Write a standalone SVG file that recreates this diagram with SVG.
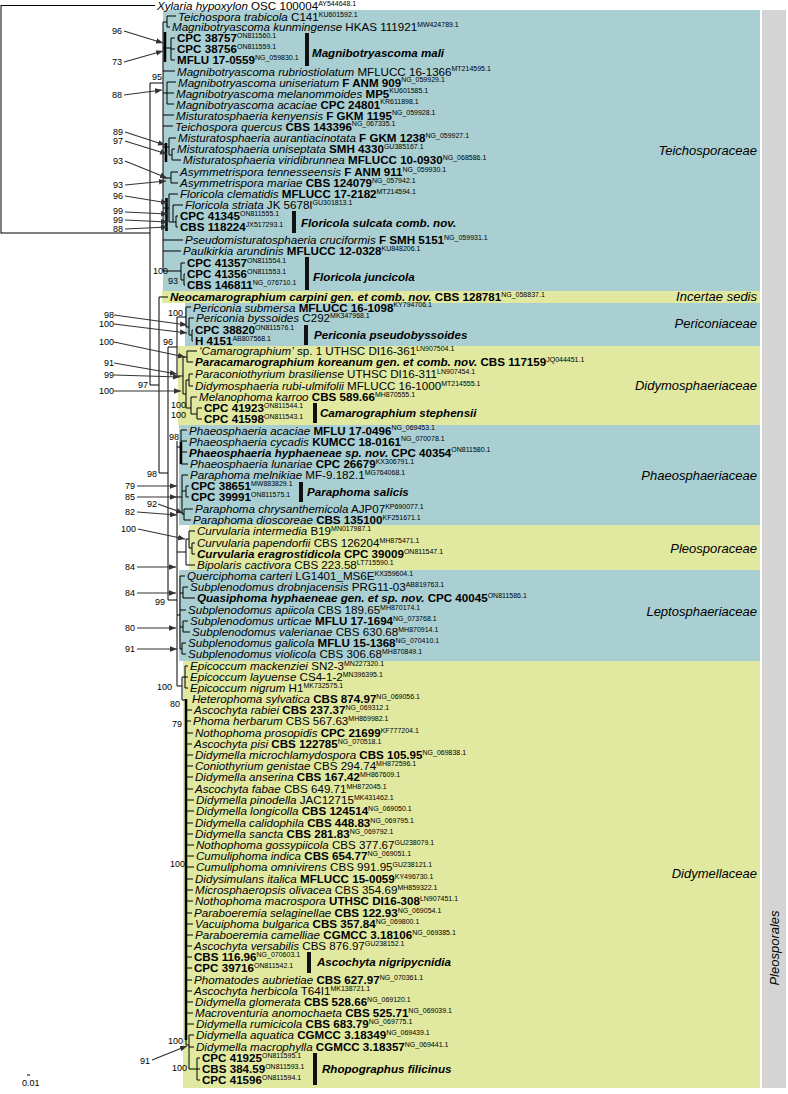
<svg xmlns="http://www.w3.org/2000/svg" width="788" height="1094" viewBox="0 0 788 1094">
<defs>
<style>
text{font-family:"Liberation Sans",Arial,sans-serif;fill:#000}
.t{font-size:11.6px}
.i{font-style:italic}
.b{font-weight:bold}
.bi{font-weight:bold;font-style:italic}
.s{font-size:7px;font-weight:normal;font-style:normal}
.n{font-size:9px}
.fam{font-size:13px;font-style:italic;text-anchor:end}
.grp{font-size:11.6px;font-weight:bold;font-style:italic}
.tree{stroke:#000;stroke-width:1;fill:none}
.thick{stroke:#000;stroke-width:2.5;fill:none}
.arr{stroke:#333;stroke-width:1.2;fill:none;marker-end:url(#ah)}
.teal{fill:#a9cfd2}
.yel{fill:#e1e8a0}
.bar{fill:#111}
</style>
<marker id="ah" viewBox="0 0 10 10" refX="10" refY="5" markerWidth="7" markerHeight="7" orient="auto" markerUnits="userSpaceOnUse"><path d="M0,1 L10,5 L0,9 z" fill="#333"/></marker>
</defs>
<rect width="788" height="1094" fill="#fff"/>
<g id="backgrounds">
<rect class="teal" x="163" y="10" width="597" height="281"/>
<rect class="yel" x="162" y="291" width="598" height="12"/>
<rect class="teal" x="185" y="303" width="575" height="43"/>
<rect class="yel" x="178" y="346" width="582" height="79"/>
<rect class="teal" x="179" y="425" width="581" height="100"/>
<rect class="yel" x="189" y="525" width="571" height="45"/>
<rect class="teal" x="179" y="570" width="581" height="91"/>
<rect class="yel" x="183" y="661" width="577" height="427"/>
<rect x="762" y="10" width="24" height="1078" fill="#d4d4d4"/>
</g>
<g id="family-labels">
<text class="fam" x="757" y="155">Teichosporaceae</text>
<text class="fam" x="757" y="301">Incertae sedis</text>
<text class="fam" x="757" y="328">Periconiaceae</text>
<text class="fam" x="757" y="390">Didymosphaeriaceae</text>
<text class="fam" x="757" y="480">Phaeosphaeriaceae</text>
<text class="fam" x="757" y="553">Pleosporaceae</text>
<text class="fam" x="757" y="616">Leptosphaeriaceae</text>
<text class="fam" x="757" y="878">Didymellaceae</text>
<text x="779" y="948" transform="rotate(-90 779 948)" style="font-size:13px;font-style:italic;text-anchor:middle">Pleosporales</text>
</g>
<g id="connectors">
<path class="tree" d="M1 5.5H155M1 5V233.5M1 233H150M150 83V385M150 83H163
M163 22V271M163 22H167M167 16V27M167 16H176M167 27H170
M163 48H171M171 38V60M171 38H175M171 49H175M171 60H175
M163 71H175M163 93H167M167 82V104M167 82H176M167 93H174M167 104H174
M163 115H174M163 126H173
M163 147H169M169 138V155M169 138H176M169 155H172M172 149V160M172 149H175M172 160H181
M163 178H171M171 172V183M171 172H178M171 183H178
M163 208H169M169 194V222M169 194H178M169 222H173M173 205V222M173 205H183M173 222H176M176 216V227M176 216H178M176 227H178
M163 240H183M163 251H181
M163 271H181M181 263V280M181 263H185M181 280H184M184 274V285M184 274H185M184 285H185
M150 385H159M159 297V473M159 297H168
M159 473H168M168 347V600
M168 347H177M177 317V376
M177 317H186M186 307V327M186 307H191M186 327H189M189 318V335M189 318H194M189 335H192M192 330V341M192 330H193M192 341H193
M177 376H183M183 357V394M183 357H187M187 351V362M187 351H197M187 362H193M183 394H186M186 380V408M186 380H189M189 374V386M189 374H193M189 386H193M186 408H191M191 397V414M191 397H197M191 414H197M197 408V419M197 408H202M197 419H202
M168 600H177M177 441V686
M177 447H181M181 430V464M181 430H187M181 441H187M181 452H187M181 464H188
M177 497H182M182 475V514M182 475H188M182 491H186M186 486V497M186 486H189M186 497H189M182 514H184M184 509V520M184 509H193M184 520H191
M177 552H186M186 539V565M186 539H189M189 531V548M189 531H195M189 548H192M192 543V554M192 543H195M192 554H195M186 565H195
M177 615H180M180 576V649M180 576H185M180 593H183M183 587V598M183 587H188M183 598H195M180 610H186M180 627H183M183 621V632M183 621H188M183 632H190M180 649H182M182 643V654M182 643H186M182 654H186
M177 686H182M182 677V700M182 677H185M185 666V688M185 666H188M185 677H188M185 688H188M182 700H186
M186 699V1045M186 710H192M186 721H191M186 733H193M186 744H192M186 755H193M186 766H193M186 777H193M186 789H193M186 800H194M186 811H194M186 823H193M186 834H193M186 845H194M186 856H194M186 867H194M186 879H193M186 890H193M186 901H193M186 913H192M186 924H193M186 935H193M186 946H192M186 957H192M186 968H192M186 980H192M186 991H192M186 1002H193M186 1013H193M186 1024H194
M186 1045H189M189 1035V1069M189 1035H194M189 1047H194M189 1069H197M197 1058V1080M197 1058H200M197 1069H200M197 1080H200"/>
<path class="thick" d="M165 32V62M166 143V162M166.5 198V231M181 442V464M186 699V1040"/>
<path class="tree" d="M27 1075H30"/>
<g id="support-arrows">
<path class="arr" d="M124 31L163 43"/>
<path class="arr" d="M124 62L163 51"/>
<path class="arr" d="M124 95L162 90"/>
<path class="arr" d="M125 132L165 145"/>
<path class="arr" d="M125 141L167 154"/>
<path class="arr" d="M125 161L167 178"/>
<path class="arr" d="M125 185L166 181"/>
<path class="arr" d="M125 196L168 203"/>
<path class="arr" d="M125 212L168 214"/>
<path class="arr" d="M125 220L168 222"/>
<path class="arr" d="M125 229L168 227"/>
<path class="arr" d="M114 315L187 325"/>
<path class="arr" d="M114 324L187 333"/>
<path class="arr" d="M114 342L185 357"/>
<path class="arr" d="M114 363L177 374"/>
<path class="arr" d="M114 375L180 377"/>
<path class="arr" d="M114 391L181 391"/>
<path class="arr" d="M137 486L177 486"/>
<path class="arr" d="M137 497L177 497"/>
<path class="arr" d="M158 504L183 513"/>
<path class="arr" d="M137 512L177 515"/>
<path class="arr" d="M138 529L185 539"/>
<path class="arr" d="M137 567L176 567"/>
<path class="arr" d="M137 593L176 593"/>
<path class="arr" d="M137 628L176 628"/>
<path class="arr" d="M137 649L177 649"/>
<path class="arr" d="M152 1060L187 1046"/>
</g>
</g>
<g id="support-values">
<text class="n" x="152" y="80">95</text>
<text class="n" x="153" y="274">100</text>
<text class="n" x="168" y="284">93</text>
<text class="n" x="168" y="316">100</text>
<text class="n" x="163" y="345">96</text>
<text class="n" x="138" y="388">97</text>
<text class="n" x="171" y="408">100</text>
<text class="n" x="171" y="418">100</text>
<text class="n" x="169" y="440">98</text>
<text class="n" x="147" y="477">98</text>
<text class="n" x="155" y="605">99</text>
<text class="n" x="157" y="690">100</text>
<text class="n" x="170" y="707">80</text>
<text class="n" x="172" y="727">79</text>
<text class="n" x="170" y="867">100</text>
<text class="n" x="168" y="1044">100</text>
<text class="n" x="172" y="1071">100</text>
<text class="n" x="112" y="34">96</text>
<text class="n" x="112" y="65">73</text>
<text class="n" x="112" y="98">88</text>
<text class="n" x="113" y="135">89</text>
<text class="n" x="113" y="144">97</text>
<text class="n" x="113" y="164">93</text>
<text class="n" x="113" y="188">93</text>
<text class="n" x="113" y="199">96</text>
<text class="n" x="113" y="214">99</text>
<text class="n" x="113" y="223">99</text>
<text class="n" x="113" y="232">88</text>
<text class="n" x="104" y="318">98</text>
<text class="n" x="99" y="327">100</text>
<text class="n" x="99" y="345">100</text>
<text class="n" x="104" y="366">91</text>
<text class="n" x="104" y="378">99</text>
<text class="n" x="99" y="394">100</text>
<text class="n" x="125" y="489">79</text>
<text class="n" x="125" y="500">85</text>
<text class="n" x="147" y="507">92</text>
<text class="n" x="125" y="515">82</text>
<text class="n" x="121" y="532">100</text>
<text class="n" x="125" y="570">84</text>
<text class="n" x="125" y="596">84</text>
<text class="n" x="125" y="631">80</text>
<text class="n" x="125" y="652">91</text>
<text class="n" x="140" y="1064">91</text>
<text class="n" x="22" y="1086">0.01</text>
</g>
<g id="group-bars">
<rect class="bar" x="305" y="33" width="4" height="33"/><text class="grp" x="312" y="57">Magnibotryascoma mali</text>
<rect class="bar" x="292" y="211" width="4" height="22"/><text class="grp" x="301" y="227">Floricola sulcata comb. nov.</text>
<rect class="bar" x="305" y="257" width="4" height="33"/><text class="grp" x="313" y="281">Floricola juncicola</text>
<rect class="bar" x="304" y="325" width="4" height="20"/><text class="grp" x="314" y="339">Periconia pseudobyssoides</text>
<rect class="bar" x="313" y="403" width="4" height="20"/><text class="grp" x="320" y="417">Camarographium stephensii</text>
<rect class="bar" x="299" y="482" width="4" height="20"/><text class="grp" x="307" y="496">Paraphoma salicis</text>
<rect class="bar" x="307" y="952" width="4" height="21"/><text class="grp" x="317" y="966">Ascochyta nigripycnidia</text>
<rect class="bar" x="313" y="1053" width="4" height="32"/><text class="grp" x="322" y="1073">Rhopographus filicinus</text>
</g>
<g id="taxa">
<g id="tx0"><text class="t" x="157" y="9.7"><tspan class="i">Xylaria hypoxylon</tspan> OSC 100004<tspan class="s" dy="-4">AY544648.1</tspan></text></g>
<g id="tx1"><text class="t" x="178" y="20.5"><tspan class="i">Teichospora trabicola</tspan> C141<tspan class="s" dy="-3.5">KU601592.1</tspan></text></g>
<g id="tx2"><text class="t" x="172" y="31"><tspan class="i">Magnibotryascoma kunmingense</tspan> HKAS 111921<tspan class="s" dy="-4">MW424789.1</tspan></text></g>
<g id="tx3"><text class="t" x="177" y="42"><tspan class="b">CPC 38757</tspan><tspan class="s" dy="-4.5">ON811560.1</tspan></text></g>
<g id="tx4"><text class="t" x="177" y="53"><tspan class="b">CPC 38756</tspan><tspan class="s" dy="-4.5">ON811559.1</tspan></text></g>
<g id="tx5"><text class="t" x="177" y="64"><tspan class="b">MFLU 17-0559</tspan><tspan class="s" dy="-4.5">NG_059830.1</tspan></text></g>
<g id="tx6"><text class="t" x="177" y="75.5"><tspan class="i">Magnibotryascoma rubriostiolatum</tspan> MFLUCC 16-1366<tspan class="s" dy="-4.5">MT214595.1</tspan></text></g>
<g id="tx7"><text class="t" x="178" y="86.5"><tspan class="i">Magnibotryascoma uniseriatum</tspan> <tspan class="b">F ANM 909</tspan><tspan class="s" dy="-4.5">NG_059929.1</tspan></text></g>
<g id="tx8"><text class="t" x="176" y="97.5"><tspan class="i">Magnibotryascoma melanommoides</tspan> <tspan class="b">MP5</tspan><tspan class="s" dy="-4.5">KU601585.1</tspan></text></g>
<g id="tx9"><text class="t" x="176" y="108.5"><tspan class="i">Magnibotryascoma acaciae</tspan> <tspan class="b">CPC 24801</tspan><tspan class="s" dy="-4.5">KR611898.1</tspan></text></g>
<g id="tx10"><text class="t" x="176" y="119.5"><tspan class="i">Misturatosphaeria kenyensis</tspan> <tspan class="b">F GKM 1195</tspan><tspan class="s" dy="-4.5">NG_059928.1</tspan></text></g>
<g id="tx11"><text class="t" x="175" y="130.5"><tspan class="i">Teichospora quercus</tspan> <tspan class="b">CBS 143396</tspan><tspan class="s" dy="-4.5">NG_067335.1</tspan></text></g>
<g id="tx12"><text class="t" x="178" y="142"><tspan class="i">Misturatosphaeria aurantiacinotata</tspan> <tspan class="b">F GKM 1238</tspan><tspan class="s" dy="-4.5">NG_059927.1</tspan></text></g>
<g id="tx13"><text class="t" x="177" y="153"><tspan class="i">Misturatosphaeria uniseptata</tspan> <tspan class="b">SMH 4330</tspan><tspan class="s" dy="-4.5">GU385167.1</tspan></text></g>
<g id="tx14"><text class="t" x="183" y="164"><tspan class="i">Misturatosphaeria viridibrunnea</tspan> <tspan class="b">MFLUCC 10-0930</tspan><tspan class="s" dy="-4.5">NG_068586.1</tspan></text></g>
<g id="tx15"><text class="t" x="180" y="176"><tspan class="i">Asymmetrispora tennesseensis</tspan> <tspan class="b">F ANM 911</tspan><tspan class="s" dy="-4.5">NG_059930.1</tspan></text></g>
<g id="tx16"><text class="t" x="180" y="187"><tspan class="i">Asymmetrispora mariae</tspan> <tspan class="b">CBS 124079</tspan><tspan class="s" dy="-4.5">NG_057942.1</tspan></text></g>
<g id="tx17"><text class="t" x="180" y="198"><tspan class="i">Floricola clematidis</tspan> <tspan class="b">MFLUCC 17-2182</tspan><tspan class="s" dy="-4.5">MT214594.1</tspan></text></g>
<g id="tx18"><text class="t" x="185" y="209"><tspan class="i">Floricola striata</tspan> JK 5678I<tspan class="s" dy="-4.5">GU301813.1</tspan></text></g>
<g id="tx19"><text class="t" x="180" y="220"><tspan class="b">CPC 41345</tspan><tspan class="s" dy="-4.5">ON811555.1</tspan></text></g>
<g id="tx20"><text class="t" x="180" y="231"><tspan class="b">CBS 118224</tspan><tspan class="s" dy="-4.5">JX517293.1</tspan></text></g>
<g id="tx21"><text class="t" x="185" y="244"><tspan class="i">Pseudomisturatosphaeria cruciformis</tspan> <tspan class="b">F SMH 5151</tspan><tspan class="s" dy="-4.5">NG_059931.1</tspan></text></g>
<g id="tx22"><text class="t" x="183" y="255"><tspan class="i">Paulkirkia arundinis</tspan> <tspan class="b">MFLUCC 12-0328</tspan><tspan class="s" dy="-4.5">KU848206.1</tspan></text></g>
<g id="tx23"><text class="t" x="187" y="267"><tspan class="b">CPC 41357</tspan><tspan class="s" dy="-4.5">ON811554.1</tspan></text></g>
<g id="tx24"><text class="t" x="187" y="278"><tspan class="b">CPC 41356</tspan><tspan class="s" dy="-4.5">ON811553.1</tspan></text></g>
<g id="tx25"><text class="t" x="187" y="289"><tspan class="b">CBS 146811</tspan><tspan class="s" dy="-4.5">NG_076710.1</tspan></text></g>
<g id="tx26"><text class="t" x="170" y="301"><tspan class="bi">Neocamarographium carpini gen. et comb. nov.</tspan> <tspan class="b">CBS 128781</tspan><tspan class="s" dy="-4.5">NG_058837.1</tspan></text></g>
<g id="tx27"><text class="t" x="193" y="311.5"><tspan class="i">Periconia submersa</tspan> <tspan class="b">MFLUCC 16-1098</tspan><tspan class="s" dy="-4.5">KY794706.1</tspan></text></g>
<g id="tx28"><text class="t" x="196" y="322.3"><tspan class="i">Periconia byssoides</tspan> C292<tspan class="s" dy="-4.5">MK347968.1</tspan></text></g>
<g id="tx29"><text class="t" x="195" y="334"><tspan class="b">CPC 38820</tspan><tspan class="s" dy="-4.5">ON811576.1</tspan></text></g>
<g id="tx30"><text class="t" x="195" y="345"><tspan class="b">H 4151</tspan><tspan class="s" dy="-4.5">AB807568.1</tspan></text></g>
<g id="tx31"><text class="t" x="199" y="355"><tspan class="i">‘Camarographium’</tspan> sp. 1 UTHSC DI16-361<tspan class="s" dy="-4.5">LN907504.1</tspan></text></g>
<g id="tx32"><text class="t" x="195" y="366"><tspan class="bi">Paracamarographium koreanum gen. et comb. nov.</tspan> <tspan class="b">CBS 117159</tspan><tspan class="s" dy="-4.5">JQ044451.1</tspan></text></g>
<g id="tx33"><text class="t" x="195" y="378"><tspan class="i">Paraconiothyrium brasiliense</tspan> UTHSC DI16-311<tspan class="s" dy="-4.5">LN907454.1</tspan></text></g>
<g id="tx34"><text class="t" x="195" y="390"><tspan class="i">Didymosphaeria rubi-ulmifolii</tspan> MFLUCC 16-1000<tspan class="s" dy="-4.5">MT214555.1</tspan></text></g>
<g id="tx35"><text class="t" x="199" y="401"><tspan class="i">Melanophoma karroo</tspan> <tspan class="b">CBS 589.66</tspan><tspan class="s" dy="-4.5">MH870555.1</tspan></text></g>
<g id="tx36"><text class="t" x="204" y="412"><tspan class="b">CPC 41923</tspan><tspan class="s" dy="-4.5">ON811544.1</tspan></text></g>
<g id="tx37"><text class="t" x="204" y="423"><tspan class="b">CPC 41598</tspan><tspan class="s" dy="-4.5">ON811543.1</tspan></text></g>
<g id="tx38"><text class="t" x="189" y="434.5"><tspan class="i">Phaeosphaeria acaciae</tspan> <tspan class="b">MFLU 17-0496</tspan><tspan class="s" dy="-4.5">NG_069453.1</tspan></text></g>
<g id="tx39"><text class="t" x="189" y="445.5"><tspan class="i">Phaeosphaeria cycadis</tspan> <tspan class="b">KUMCC 18-0161</tspan><tspan class="s" dy="-4.5">NG_070078.1</tspan></text></g>
<g id="tx40"><text class="t" x="189" y="456.5"><tspan class="bi">Phaeosphaeria hyphaeneae sp. nov.</tspan> <tspan class="b">CPC 40354</tspan><tspan class="s" dy="-4.5">ON811580.1</tspan></text></g>
<g id="tx41"><text class="t" x="190" y="468"><tspan class="i">Phaeosphaeria lunariae</tspan> <tspan class="b">CPC 26679</tspan><tspan class="s" dy="-4.5">KX306791.1</tspan></text></g>
<g id="tx42"><text class="t" x="190" y="479"><tspan class="i">Paraphoma melnikiae</tspan> MF-9.182.1<tspan class="s" dy="-4.5">MG764068.1</tspan></text></g>
<g id="tx43"><text class="t" x="191" y="490"><tspan class="b">CPC 38651</tspan><tspan class="s" dy="-4.5">MW883829.1</tspan></text></g>
<g id="tx44"><text class="t" x="191" y="501"><tspan class="b">CPC 39991</tspan><tspan class="s" dy="-4.5">ON811575.1</tspan></text></g>
<g id="tx45"><text class="t" x="195" y="513"><tspan class="i">Paraphoma chrysanthemicola</tspan> AJP07<tspan class="s" dy="-4.5">KP690077.1</tspan></text></g>
<g id="tx46"><text class="t" x="193" y="524"><tspan class="i">Paraphoma dioscoreae</tspan> <tspan class="b">CBS 135100</tspan><tspan class="s" dy="-4.5">KF251671.1</tspan></text></g>
<g id="tx47"><text class="t" x="197" y="535"><tspan class="i">Curvularia intermedia</tspan> B19<tspan class="s" dy="-4.5">MN017987.1</tspan></text></g>
<g id="tx48"><text class="t" x="197" y="547"><tspan class="i">Curvularia papendorfii</tspan> CBS 126204<tspan class="s" dy="-4.5">MH875471.1</tspan></text></g>
<g id="tx49"><text class="t" x="197" y="558"><tspan class="bi">Curvularia eragrostidicola</tspan> <tspan class="b">CPC 39009</tspan><tspan class="s" dy="-4.5">ON811547.1</tspan></text></g>
<g id="tx50"><text class="t" x="197" y="569"><tspan class="i">Bipolaris cactivora</tspan> CBS 223.58<tspan class="s" dy="-4.5">LT715590.1</tspan></text></g>
<g id="tx51"><text class="t" x="187" y="580"><tspan class="i">Querciphoma carteri</tspan> LG1401_MS6E<tspan class="s" dy="-4.5">KX359604.1</tspan></text></g>
<g id="tx52"><text class="t" x="190" y="591"><tspan class="i">Subplenodomus drobnjacensis</tspan> PRG11-03<tspan class="s" dy="-4.5">AB819763.1</tspan></text></g>
<g id="tx53"><text class="t" x="197" y="602"><tspan class="bi">Quasiphoma hyphaeneae gen. et sp. nov.</tspan> <tspan class="b">CPC 40045</tspan><tspan class="s" dy="-4.5">ON811586.1</tspan></text></g>
<g id="tx54"><text class="t" x="188" y="614"><tspan class="i">Subplenodomus apiicola</tspan> CBS 189.65<tspan class="s" dy="-4.5">MH870174.1</tspan></text></g>
<g id="tx55"><text class="t" x="190" y="625"><tspan class="i">Subplenodomus urticae</tspan> <tspan class="b">MFLU 17-1694</tspan><tspan class="s" dy="-4.5">NG_073768.1</tspan></text></g>
<g id="tx56"><text class="t" x="192" y="636"><tspan class="i">Subplenodomus valerianae</tspan> CBS 630.68<tspan class="s" dy="-4.5">MH870914.1</tspan></text></g>
<g id="tx57"><text class="t" x="188" y="647"><tspan class="i">Subplenodomus galicola</tspan> <tspan class="b">MFLU 15-1368</tspan><tspan class="s" dy="-4.5">NG_070410.1</tspan></text></g>
<g id="tx58"><text class="t" x="188" y="658"><tspan class="i">Subplenodomus violicola</tspan> CBS 306.68<tspan class="s" dy="-4.5">MH870849.1</tspan></text></g>
<g id="tx59"><text class="t" x="190" y="670"><tspan class="i">Epicoccum mackenziei</tspan> SN2-3<tspan class="s" dy="-4.5">MN227320.1</tspan></text></g>
<g id="tx60"><text class="t" x="190" y="681"><tspan class="i">Epicoccum layuense</tspan> CS4-1-2<tspan class="s" dy="-4.5">MN396395.1</tspan></text></g>
<g id="tx61"><text class="t" x="190" y="692"><tspan class="i">Epicoccum nigrum</tspan> H1<tspan class="s" dy="-4.5">MK732575.1</tspan></text></g>
<g id="tx62"><text class="t" x="192" y="703"><tspan class="i">Heterophoma sylvatica</tspan> <tspan class="b">CBS 874.97</tspan><tspan class="s" dy="-4.5">NG_069056.1</tspan></text></g>
<g id="tx63"><text class="t" x="194" y="714"><tspan class="i">Ascochyta rabiei</tspan> <tspan class="b">CBS 237.37</tspan><tspan class="s" dy="-4.5">NG_069312.1</tspan></text></g>
<g id="tx64"><text class="t" x="193" y="725"><tspan class="i">Phoma herbarum</tspan> CBS 567.63<tspan class="s" dy="-4.5">MH869982.1</tspan></text></g>
<g id="tx65"><text class="t" x="195" y="737"><tspan class="i">Nothophoma prosopidis</tspan> <tspan class="b">CPC 21699</tspan><tspan class="s" dy="-4.5">KF777204.1</tspan></text></g>
<g id="tx66"><text class="t" x="194" y="748"><tspan class="i">Ascochyta pisi</tspan> <tspan class="b">CBS 122785</tspan><tspan class="s" dy="-4.5">NG_070518.1</tspan></text></g>
<g id="tx67"><text class="t" x="195" y="759"><tspan class="i">Didymella microchlamydospora</tspan> <tspan class="b">CBS 105.95</tspan><tspan class="s" dy="-4.5">NG_069838.1</tspan></text></g>
<g id="tx68"><text class="t" x="195" y="770"><tspan class="i">Coniothyrium genistae</tspan> CBS 294.74<tspan class="s" dy="-4.5">MH872596.1</tspan></text></g>
<g id="tx69"><text class="t" x="195" y="781"><tspan class="i">Didymella anserina</tspan> <tspan class="b">CBS 167.42</tspan><tspan class="s" dy="-4.5">MH867609.1</tspan></text></g>
<g id="tx70"><text class="t" x="195" y="793"><tspan class="i">Ascochyta fabae</tspan> CBS 649.71<tspan class="s" dy="-4.5">MH872045.1</tspan></text></g>
<g id="tx71"><text class="t" x="196" y="804"><tspan class="i">Didymella pinodella</tspan> JAC12715<tspan class="s" dy="-4.5">MK431462.1</tspan></text></g>
<g id="tx72"><text class="t" x="196" y="815"><tspan class="i">Didymella longicolla</tspan> <tspan class="b">CBS 124514</tspan><tspan class="s" dy="-4.5">NG_069050.1</tspan></text></g>
<g id="tx73"><text class="t" x="195" y="827"><tspan class="i">Didymella calidophila</tspan> <tspan class="b">CBS 448.83</tspan><tspan class="s" dy="-4.5">NG_069795.1</tspan></text></g>
<g id="tx74"><text class="t" x="195" y="838"><tspan class="i">Didymella sancta</tspan> <tspan class="b">CBS 281.83</tspan><tspan class="s" dy="-4.5">NG_069792.1</tspan></text></g>
<g id="tx75"><text class="t" x="196" y="849"><tspan class="i">Nothophoma gossypiicola</tspan> CBS 377.67<tspan class="s" dy="-4.5">GU238079.1</tspan></text></g>
<g id="tx76"><text class="t" x="196" y="860"><tspan class="i">Cumuliphoma indica</tspan> <tspan class="b">CBS 654.77</tspan><tspan class="s" dy="-4.5">NG_069051.1</tspan></text></g>
<g id="tx77"><text class="t" x="196" y="871"><tspan class="i">Cumuliphoma omnivirens</tspan> CBS 991.95<tspan class="s" dy="-4.5">GU238121.1</tspan></text></g>
<g id="tx78"><text class="t" x="195" y="883"><tspan class="i">Didysimulans italica</tspan> <tspan class="b">MFLUCC 15-0059</tspan><tspan class="s" dy="-4.5">KY496730.1</tspan></text></g>
<g id="tx79"><text class="t" x="195" y="894"><tspan class="i">Microsphaeropsis olivacea</tspan> CBS 354.69<tspan class="s" dy="-4.5">MH859322.1</tspan></text></g>
<g id="tx80"><text class="t" x="195" y="905"><tspan class="i">Nothophoma macrospora</tspan> <tspan class="b">UTHSC DI16-308</tspan><tspan class="s" dy="-4.5">LN907451.1</tspan></text></g>
<g id="tx81"><text class="t" x="194" y="917"><tspan class="i">Paraboeremia selaginellae</tspan> <tspan class="b">CBS 122.93</tspan><tspan class="s" dy="-4.5">NG_069054.1</tspan></text></g>
<g id="tx82"><text class="t" x="195" y="928"><tspan class="i">Vacuiphoma bulgarica</tspan> <tspan class="b">CBS 357.84</tspan><tspan class="s" dy="-4.5">NG_069800.1</tspan></text></g>
<g id="tx83"><text class="t" x="195" y="939"><tspan class="i">Paraboeremia camelliae</tspan> <tspan class="b">CGMCC 3.18106</tspan><tspan class="s" dy="-4.5">NG_069385.1</tspan></text></g>
<g id="tx84"><text class="t" x="194" y="950"><tspan class="i">Ascochyta versabilis</tspan> CBS 876.97<tspan class="s" dy="-4.5">GU238152.1</tspan></text></g>
<g id="tx85"><text class="t" x="194" y="961"><tspan class="b">CBS 116.96</tspan><tspan class="s" dy="-4.5">NG_070603.1</tspan></text></g>
<g id="tx86"><text class="t" x="194" y="972"><tspan class="b">CPC 39716</tspan><tspan class="s" dy="-4.5">ON811542.1</tspan></text></g>
<g id="tx87"><text class="t" x="194" y="984"><tspan class="i">Phomatodes aubrietiae</tspan> <tspan class="b">CBS 627.97</tspan><tspan class="s" dy="-4.5">NG_070361.1</tspan></text></g>
<g id="tx88"><text class="t" x="194" y="995"><tspan class="i">Ascochyta herbicola</tspan> T64I1<tspan class="s" dy="-4.5">MK138721.1</tspan></text></g>
<g id="tx89"><text class="t" x="195" y="1006"><tspan class="i">Didymella glomerata</tspan> <tspan class="b">CBS 528.66</tspan><tspan class="s" dy="-4.5">NG_069120.1</tspan></text></g>
<g id="tx90"><text class="t" x="195" y="1017"><tspan class="i">Macroventuria anomochaeta</tspan> <tspan class="b">CBS 525.71</tspan><tspan class="s" dy="-4.5">NG_069039.1</tspan></text></g>
<g id="tx91"><text class="t" x="196" y="1028"><tspan class="i">Didymella rumicicola</tspan> <tspan class="b">CBS 683.79</tspan><tspan class="s" dy="-4.5">NG_069775.1</tspan></text></g>
<g id="tx92"><text class="t" x="196" y="1039"><tspan class="i">Didymella aquatica</tspan> <tspan class="b">CGMCC 3.18349</tspan><tspan class="s" dy="-4.5">NG_069439.1</tspan></text></g>
<g id="tx93"><text class="t" x="196" y="1051"><tspan class="i">Didymella macrophylla</tspan> <tspan class="b">CGMCC 3.18357</tspan><tspan class="s" dy="-4.5">NG_069441.1</tspan></text></g>
<g id="tx94"><text class="t" x="202" y="1062"><tspan class="b">CPC 41925</tspan><tspan class="s" dy="-4.5">ON811595.1</tspan></text></g>
<g id="tx95"><text class="t" x="202" y="1073"><tspan class="b">CBS 384.59</tspan><tspan class="s" dy="-4.5">ON811593.1</tspan></text></g>
<g id="tx96"><text class="t" x="202" y="1084"><tspan class="b">CPC 41596</tspan><tspan class="s" dy="-4.5">ON811594.1</tspan></text></g>
</g>
</svg>
